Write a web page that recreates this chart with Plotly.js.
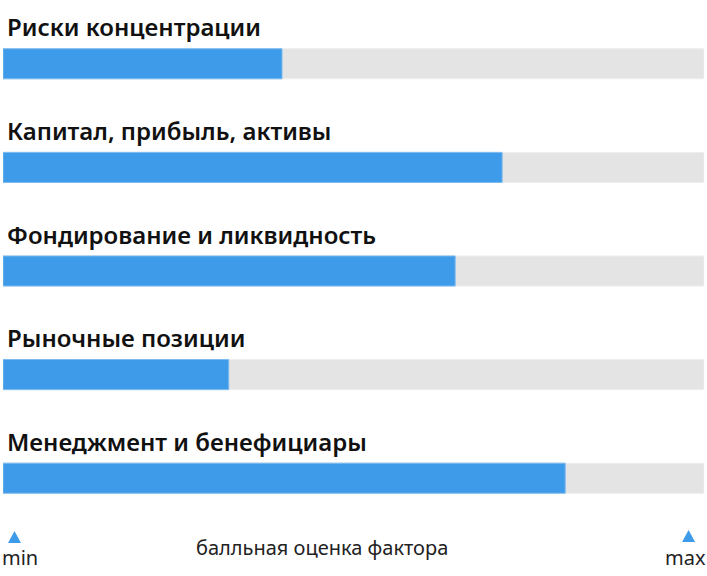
<!DOCTYPE html>
<html>
<head>
<meta charset="utf-8">
<script src="https://cdn.plot.ly/plotly-3.0.1.min.js"></script>
<style>html,body{margin:0;padding:0;background:#fff;}#chart{width:707px;height:576px;}</style>
</head>
<body>
<div id="chart"></div>
<script>
const categories = ["Риски концентрации", "Капитал, прибыль, активы", "Фондирование и ликвидность", "Рыночные позиции", "Менеджмент и бенефициары"];
const values = [39.8, 71.2, 64.5, 32.2, 80.2];
const maxValues = [100, 100, 100, 100, 100];
const axisLabel = "балльная оценка фактора";
const minLabel = "min";
const maxLabel = "max";

const blue = "#3d9be9";
const gray = "#e4e4e4";

const track = {
  type: "bar", orientation: "h", y: categories, x: maxValues,
  marker: {color: gray, line: {color: "#eeeeee", width: 1}},
  width: 0.29, hoverinfo: "skip", showlegend: false
};
const fill = {
  type: "bar", orientation: "h", y: categories, x: values,
  marker: {color: blue, line: {color: "#7ab9ef", width: 1}},
  width: 0.29, showlegend: false
};

const annotations = categories.map(c => ({
  xref: "paper", yref: "y", x: 0, y: c, xanchor: "left", yanchor: "middle",
  xshift: 2, yshift: 37, showarrow: false, text: c,
  font: {family: "Noto Sans", size: 24, color: "#111111", weight: 600}
}));
const smallFont = {family: "Noto Sans", size: 20, color: "#222"};
annotations.push(
  {xref: "paper", yref: "paper", x: 0.024, y: -0.054, text: minLabel, showarrow: false, xanchor: "center", yanchor: "middle", font: smallFont},
  {xref: "paper", yref: "paper", x: 0.974, y: -0.054, text: maxLabel, showarrow: false, xanchor: "center", yanchor: "middle", font: smallFont},
  {xref: "paper", yref: "paper", x: 0.455, y: -0.033, text: axisLabel, showarrow: false, xanchor: "center", yanchor: "middle", font: smallFont}
);

const tri = (px, py) => ({
  type: "path", xref: "paper", yref: "paper", xsizemode: "pixel", ysizemode: "pixel",
  xanchor: px, yanchor: py, path: "M-6.5,0 L6.5,0 L0,12 Z",
  fillcolor: blue, line: {width: 0}
});

const layout = {
  width: 707, height: 576,
  margin: {l: 3, r: 3, t: 12, b: 46, pad: 0},
  barmode: "overlay",
  paper_bgcolor: "#fff", plot_bgcolor: "#fff",
  xaxis: {range: [0, 100], visible: false, fixedrange: true},
  yaxis: {type: "category", categoryorder: "array", categoryarray: categories, range: [categories.length - 0.5, -0.5], visible: false, fixedrange: true},
  annotations: annotations,
  shapes: [tri(0.0164, -0.0252), tri(0.978, -0.0232)]
};

Plotly.newPlot("chart", [track, fill], layout, {displayModeBar: false, staticPlot: true});
</script>
</body>
</html>
